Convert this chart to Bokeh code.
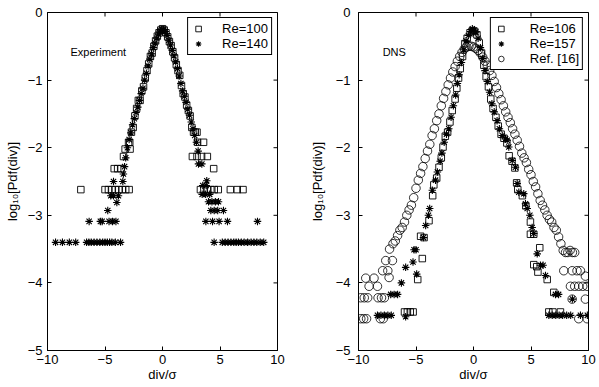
import math
from bokeh.plotting import figure
from bokeh.layouts import row
from bokeh.models import Range1d, FixedTicker, CustomJSTickFormatter, Label
from bokeh.embed import file_html
from bokeh.resources import INLINE

# ---------------- data ----------------
x_ticks = [-10, -5, 0, 5, 10]
y_ticks = [-5, -4, -3, -2, -1, 0]

# Experiment, Re=100 (squares)
exp100_x = [-2.85, -2.7, -2.55, -2.4, -2.25, -2.1, -1.95, -1.8, -1.65, -1.5, -1.35, -1.2, -1.05, -0.9,
            -0.75, -0.6, -0.45, -0.3, -0.15, 0.0, 0.15, 0.3, 0.45, 0.6, 0.75, 0.9, 1.05, 1.2, 1.35, 1.5,
            1.65, 1.8, 1.95, 2.1, 2.25, 2.4, 2.55, 2.7, 2.85, 3.0, 3.05, 3.57, 2.6, 3.0, 3.4, 3.9, 4.45,
            3.3, 3.6, 3.9, 4.2, 4.5, 4.85, 5.9, 6.5, 7.0,
            -2.95, -3.25, -2.82, -3.39, -4.2, -3.9, -3.6,
            -7.1, -5.0, -4.7, -4.4, -4.1, -3.8, -3.5, -3.2, -2.9]
exp100_y = [-1.92, -1.77, -1.70, -1.53, -1.42, -1.30, -1.30, -1.16, -1.10, -0.97, -0.86, -0.76, -0.65, -0.60,
            -0.50, -0.42, -0.35, -0.30, -0.26, -0.24, -0.26, -0.30, -0.36, -0.43, -0.49, -0.58, -0.67, -0.77, -0.86, -0.93,
            -1.08, -1.20, -1.25, -1.37, -1.45, -1.53, -1.70, -1.77, -1.77, -1.77, -1.92, -1.92, -2.13, -2.13, -2.13, -2.13, -2.31,
            -2.62, -2.62, -2.62, -2.62, -2.62, -2.62, -2.62, -2.62, -2.62,
            -1.92, -2.02, -2.02, -2.13, -2.31, -2.31, -2.31,
            -2.62, -2.62, -2.62, -2.62, -2.62, -2.62, -2.62, -2.62, -2.62]

# Experiment, Re=140 (asterisks)
exp140_x = [-2.75, -2.6, -2.45, -2.3, -2.15, -2.0, -1.85, -1.7, -1.55, -1.4, -1.25, -1.1, -0.95, -0.8,
            -0.65, -0.5, -0.35, -0.2, -0.05, 0.1, 0.25, 0.4, 0.55, 0.7, 0.85, 1.0, 1.15, 1.3, 1.45, 1.6,
            1.75, 1.9, 2.05, 2.2, 2.35, 2.5, 2.65, 2.8, 2.95, 3.1,
            -2.9, -3.05, -3.2, -3.3, -3.4, -3.45, -4.26, -3.83, -4.26, -4.5, -3.97, -4.76,
            -6.38, -5.4, -5.25, -4.65, -4.35, -4.05,
            -9.3, -8.7, -8.1, -7.55, -6.6, -6.4, -6.2, -5.95, -5.7, -5.45, -5.2, -5.0, -4.8, -4.6, -4.4, -4.1, -3.65,
            3.13, 3.42, 3.85, 3.5, 3.8, 3.45, 3.75, 4.1, 4.0, 4.3, 4.6, 4.87, 4.2, 4.5, 4.8, 5.3,
            3.77, 4.35, 4.92, 5.65, 8.26,
            4.49, 5.2, 5.45, 5.7, 5.95, 6.2, 6.4, 6.6, 6.85, 7.1, 7.4, 7.7, 7.95, 8.2, 8.5, 8.8]
exp140_y = [-1.78, -1.66, -1.57, -1.48, -1.40, -1.30, -1.20, -1.12, -1.00, -0.90, -0.79, -0.69, -0.61, -0.52,
            -0.45, -0.38, -0.32, -0.27, -0.25, -0.25, -0.28, -0.34, -0.41, -0.48, -0.56, -0.64, -0.73, -0.83, -0.94, -1.05,
            -1.16, -1.24, -1.33, -1.43, -1.52, -1.62, -1.72, -1.82, -1.92, -2.05,
            -1.88, -2.00, -2.15, -2.28, -2.39, -2.50, -2.50, -2.71, -2.71, -2.71, -2.81, -2.93,
            -3.09, -3.09, -3.09, -3.09, -3.09, -3.09,
            -3.40, -3.40, -3.40, -3.40, -3.40, -3.40, -3.40, -3.40, -3.40, -3.40, -3.40, -3.40, -3.40, -3.40, -3.40, -3.40, -3.40,
            -2.24, -2.24, -2.49, -2.56, -2.56, -2.69, -2.69, -2.69, -2.80, -2.80, -2.80, -2.80, -2.93, -2.93, -2.93, -2.93,
            -3.09, -3.09, -3.09, -3.09, -3.09,
            -3.40, -3.40, -3.40, -3.40, -3.40, -3.40, -3.40, -3.40, -3.40, -3.40, -3.40, -3.40, -3.40, -3.40, -3.40, -3.40]

# DNS, Re=106 (squares)
dns106_x = [-0.1, -0.3, -0.55, -0.75, -0.95, -1.15, -1.3, -1.45, -1.6, -1.85, -2.05, -2.25, -2.45, -2.65,
            -2.8, -3.0, -3.2, -3.45, -3.55, -3.87, -4.3, -4.6, -4.45, -4.85, -6.0, -5.75, -5.5, -5.25,
            0.1, 0.3, 0.5, 0.7, 0.9, 1.1, 1.3, 1.5, 1.7, 1.95, 2.15, 2.4, 2.65, 2.9, 3.1, 3.35, 3.6,
            3.75, 3.85, 4.25, 4.55, 4.95, 4.95, 5.24, 5.76, 5.24, 5.5, 5.6, 6.41, 6.98, 6.55, 6.9, 7.56]
dns106_y = [-0.27, -0.30, -0.38, -0.46, -0.65, -0.83, -0.97, -1.12, -1.28, -1.45, -1.62, -1.77, -1.83, -1.99,
            -2.15, -2.29, -2.45, -2.55, -2.71, -3.08, -3.33, -3.31, -3.64, -3.95, -4.43, -4.43, -4.43, -4.43,
            -0.28, -0.33, -0.45, -0.60, -0.78, -0.95, -1.10, -1.28, -1.42, -1.55, -1.68, -1.80, -1.86, -1.93, -2.12, -2.20, -2.30,
            -2.52, -2.62, -2.71, -2.86, -3.10, -3.28, -3.28, -3.48, -3.73, -3.76, -3.84, -3.95, -4.14, -4.43, -4.43, -4.43]

# DNS, Re=157 (asterisks)
dns157_x = [-0.1, 0.05, -0.25, -0.45, -0.65, -0.85, -1.05, -1.25, -1.4, -1.55, -1.75, -1.95, -2.15, -2.35,
            -2.55, -2.75, -2.9, -3.14, -3.3, -3.58, -3.81, -3.92, -4.16, -4.35,
            -5.17, -5.0, -5.26, -5.9, -4.94, -6.27, -7.2, -6.9, -6.6,
            -8.35, -8.05, -7.75, -7.45, -7.15, -5.9,
            0.2, 0.4, 0.6, 0.8, 1.0, 1.2, 1.4, 1.6, 1.8, 2.05, 2.25, 2.5, 2.79, 2.93, 3.07, 3.37, 3.65,
            3.8, 3.94, 4.37, 4.52, 4.67, 4.9, 5.1, 5.24, 5.54, 5.82, 6.05, 6.26, 7.13, 7.4, 8.6,
            6.55, 6.85, 7.15, 7.45, 7.75, 8.1, 8.45, 9.3, 9.9]
dns157_y = [-0.24, -0.26, -0.28, -0.34, -0.42, -0.55, -0.74, -0.92, -1.05, -1.22, -1.38, -1.55, -1.72, -1.80,
            -1.92, -2.08, -2.20, -2.36, -2.48, -2.63, -2.90, -3.00, -3.15, -3.33,
            -3.51, -3.51, -3.69, -3.77, -3.87, -4.00, -4.17, -4.17, -4.17,
            -4.48, -4.48, -4.48, -4.48, -4.48, -4.50,
            -0.29, -0.38, -0.52, -0.68, -0.86, -1.02, -1.18, -1.35, -1.47, -1.60, -1.72, -1.82, -1.87, -1.89, -1.99, -2.19, -2.29,
            -2.53, -2.66, -2.68, -2.83, -2.90, -3.00, -3.18, -3.27, -3.57, -3.74, -3.74, -3.89, -4.17, -4.17, -4.24,
            -4.48, -4.48, -4.48, -4.48, -4.48, -4.48, -4.48, -4.48, -4.48]

# Ref. [16] (circles)
ref16_x = [-7.0, -6.8, -6.6, -6.4, -6.2, -6.0, -5.8, -5.6, -5.4, -5.2, -5.0, -4.8, -4.6, -4.4, -4.2, -4.0,
           -3.8, -3.6, -3.4, -3.2, -3.0, -2.8, -2.6, -2.4, -2.2, -2.0, -1.8, -1.6, -1.4, -1.2, -1.0, -0.8,
           -0.6, -0.4, -0.2, 0.0, 0.2, 0.4, 0.6, 0.8, 1.0, 1.2, 1.4, 1.6, 1.8, 2.0, 2.2, 2.4, 2.6, 2.8,
           3.0, 3.2, 3.4, 3.6, 3.8, 4.0, 4.2, 4.4, 4.6, 4.8, 5.0, 5.2, 5.4, 5.6, 5.8, 6.0, 6.2, 6.4, 6.6,
           6.8, 7.0, 7.2, 7.4, 7.6, 7.8, 8.0, 8.2, 8.4, 8.6, 8.8,
           7.85, 8.58, 9.0, 9.3, 9.73, 8.43, 8.8, 9.15, 9.5, 9.88, 8.58, 9.73, 9.15, 9.88,
           -7.3, -7.05, -7.63, -7.45, -7.9, -7.34, -8.65, -9.37, -8.35, -9.08,
           -9.8, -9.5, -9.2, -8.3, -8.0, -7.75, -9.8, -9.55, -9.3, -8.1, -7.85]
ref16_y = [-3.42, -3.38, -3.30, -3.22, -3.18, -3.10, -3.00, -2.92, -2.85, -2.74, -2.60, -2.48, -2.38, -2.28, -2.16, -2.05,
           -1.95, -1.82, -1.72, -1.60, -1.50, -1.38, -1.27, -1.17, -1.07, -0.97, -0.88, -0.80, -0.72, -0.65, -0.59, -0.54,
           -0.51, -0.50, -0.50, -0.51, -0.53, -0.56, -0.60, -0.66, -0.72, -0.78, -0.86, -0.93, -1.02, -1.11, -1.20, -1.29, -1.38, -1.47,
           -1.55, -1.63, -1.72, -1.80, -1.89, -1.98, -2.08, -2.15, -2.22, -2.32, -2.40, -2.50, -2.58, -2.68, -2.78, -2.85, -2.92, -3.00, -3.06,
           -3.10, -3.18, -3.22, -3.32, -3.42, -3.52, -3.55, -3.55, -3.52, -3.55, -3.55,
           -3.82, -3.82, -3.82, -3.82, -3.90, -4.05, -4.05, -4.05, -4.05, -4.05, -4.24, -4.24, -4.53, -4.53,
           -3.50, -3.67, -3.67, -3.82, -3.82, -3.92, -3.93, -3.93, -4.05, -4.05,
           -4.22, -4.22, -4.22, -4.22, -4.22, -4.22, -4.53, -4.53, -4.53, -4.53, -4.53]

FONT = "Liberation Sans"
X0, X1, Y0, Y1 = -10, 10, -5, 0
minus_fmt = "return String(tick).replace('-', '\\u2212');"
FIG_H = 387


def make_fig(width, bl, br, ylab_standoff, tick_standoff):
    p = figure(width=width, height=FIG_H, x_range=Range1d(X0, X1), y_range=Range1d(Y0, Y1),
               output_backend="svg", toolbar_location=None,
               min_border_left=bl, min_border_right=br, min_border_top=12, min_border_bottom=37)
    p.xgrid.visible = False
    p.ygrid.visible = False
    p.outline_line_color = "black"
    p.outline_line_alpha = 1
    p.background_fill_color = "white"
    p.border_fill_color = "white"
    for ax, ticks in ((p.xaxis[0], x_ticks), (p.yaxis[0], y_ticks)):
        ax.ticker = FixedTicker(ticks=ticks)
        ax.formatter = CustomJSTickFormatter(code=minus_fmt)
        ax.major_tick_in = 4
        ax.major_tick_out = 0
        ax.minor_tick_in = 0
        ax.minor_tick_out = 0
        ax.axis_line_color = "black"
        ax.major_tick_line_color = "black"
        ax.major_label_text_font = FONT
        ax.major_label_text_font_size = "13px"
        ax.major_label_text_color = "black"
        ax.major_label_text_line_height = 1.0
        ax.axis_label_text_font = FONT
        ax.axis_label_text_font_size = "13px"
        ax.axis_label_text_font_style = "normal"
        ax.axis_label_text_color = "black"
        ax.axis_label_text_line_height = 1.0
    p.xaxis[0].axis_label = "div/σ"
    p.xaxis[0].major_label_standoff = 4
    p.xaxis[0].axis_label_standoff = 0
    p.yaxis[0].axis_label = "log₁₀[Pdf(div)]"
    p.yaxis[0].major_label_standoff = tick_standoff
    p.yaxis[0].axis_label_standoff = ylab_standoff
    # inward tick marks on the top and right edges of the box
    p.scatter(x_ticks, [Y1] * len(x_ticks), marker="dash", angle=math.pi / 2, size=8,
              line_color="black", line_width=1)
    p.scatter([X1] * len(y_ticks), y_ticks, marker="dash", size=8,
              line_color="black", line_width=1)
    return p


def style_legend(p, standoff):
    lg = p.legend[0]
    lg.location = "top_right"
    lg.margin = 5
    lg.padding = 3
    lg.spacing = 0
    lg.label_height = 15
    lg.glyph_height = 15
    lg.glyph_width = 14
    lg.label_standoff = standoff
    lg.label_text_font = FONT
    lg.label_text_font_size = "13px"
    lg.label_text_color = "black"
    lg.label_text_line_height = 1.0
    lg.border_line_color = "black"
    lg.border_line_width = 1
    lg.border_line_alpha = 1
    lg.background_fill_alpha = 1


# ---- left: experiment ----
p1 = make_fig(300, 47, 23, 5, 5)
p1.scatter(exp100_x, exp100_y, marker="square", size=6.5, fill_color=None, line_color="black",
           line_width=0.9, legend_label="Re=100")
p1.scatter(exp140_x, exp140_y, marker="asterisk", size=7.5, line_color="black",
           line_width=1.1, legend_label="Re=140")
style_legend(p1, 17)
p1.add_layout(Label(x=-8.0, y=-0.59, text="Experiment", text_font=FONT, text_font_size="11px",
                    text_baseline="middle", text_color="black"))

# ---- right: DNS ----
p2 = make_fig(299, 58, 11, 8, 8)
p2.scatter(dns106_x, dns106_y, marker="square", size=6.5, fill_color=None, line_color="black",
           line_width=0.9, legend_label="Re=106")
p2.scatter(dns157_x, dns157_y, marker="asterisk", size=7.5, line_color="black",
           line_width=1.1, legend_label="Re=157")
p2.scatter(ref16_x, ref16_y, marker="circle", size=8.5, fill_color=None, line_color="black",
           line_width=0.8, legend_label="Ref. [16]")
style_legend(p2, 22)
p2.add_layout(Label(x=-7.9, y=-0.59, text="DNS", text_font=FONT, text_font_size="11px",
                    text_baseline="middle", text_color="black"))

layout = row(p1, p2)
open("out.html", "w").write(file_html(layout, INLINE))
